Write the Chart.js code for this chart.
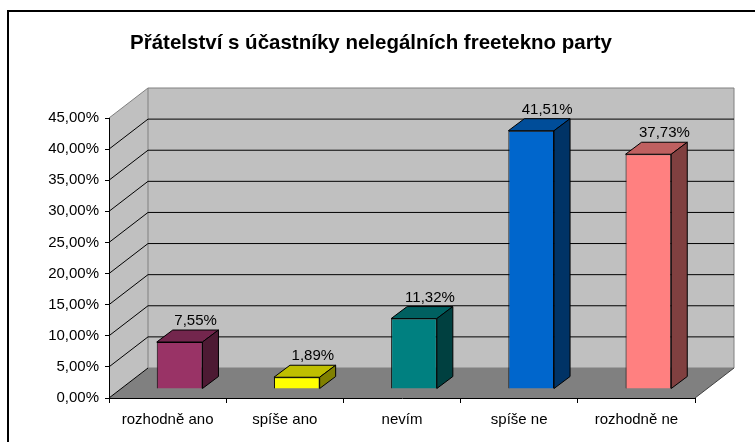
<!DOCTYPE html>
<html>
<head>
<meta charset="utf-8">
<script src="https://cdn.jsdelivr.net/npm/chart.js@4/dist/chart.umd.min.js"></script>
<style>
  html, body { margin: 0; padding: 0; background: #fff; }
  #wrap { width: 755px; height: 442px; }
</style>
</head>
<body>
<div id="wrap"><canvas id="chart" width="755" height="442"></canvas></div>
<script>
// Data
const categories = ['rozhodně ano', 'spíše ano', 'nevím', 'spíše ne', 'rozhodně ne'];
const values = [7.55, 1.89, 11.32, 41.51, 37.73];
const barColors = ['#993366', '#FFFF00', '#008080', '#0066CC', '#FF8080'];
const yMax = 45;
const yStep = 5;

const FONT = "'Liberation Sans', Arial, sans-serif";

// 3D look: wall depth, bar offset from the front plane, bar depth
const WALL_DX = 39, WALL_DY = -30;
const BAR_OFF_X = 12, BAR_OFF_Y = -9;
const BAR_DX = 16, BAR_DY = -12;

const fmt = v => v.toFixed(2).replace('.', ',') + '%';

function shade(hex, f) {
    const n = parseInt(hex.slice(1), 16);
    const r = Math.round(((n >> 16) & 255) * f);
    const g = Math.round(((n >> 8) & 255) * f);
    const b = Math.round((n & 255) * f);
    return `rgb(${r},${g},${b})`;
}

function poly(ctx, pts, fill, stroke) {
    ctx.beginPath();
    ctx.moveTo(pts[0][0], pts[0][1]);
    for (let i = 1; i < pts.length; i++) ctx.lineTo(pts[i][0], pts[i][1]);
    ctx.closePath();
    if (fill) { ctx.fillStyle = fill; ctx.fill(); }
    if (stroke) { ctx.strokeStyle = stroke; ctx.lineWidth = 1; ctx.stroke(); }
}

function line(ctx, pts, color) {
    ctx.beginPath();
    ctx.moveTo(pts[0][0], pts[0][1]);
    for (let i = 1; i < pts.length; i++) ctx.lineTo(pts[i][0], pts[i][1]);
    ctx.strokeStyle = color;
    ctx.lineWidth = 1;
    ctx.stroke();
}

const wallsPlugin = {
    id: 'walls',
    beforeDraw(chart) {
        const ctx = chart.ctx;
        const { left, right } = chart.chartArea;
        const ys = chart.scales.y;
        const yTop = ys.getPixelForValue(yMax);
        const y0 = ys.getPixelForValue(0);
        ctx.save();
        // outer frame (only top and left are visible)
        ctx.fillStyle = '#000';
        ctx.fillRect(7, 10, 760, 2);
        ctx.fillRect(7, 10, 2, 440);

        // side wall, back wall, floor
        poly(ctx, [[left, yTop], [left + WALL_DX, yTop + WALL_DY], [left + WALL_DX, y0 + WALL_DY], [left, y0]], '#c0c0c0');
        poly(ctx, [[left + WALL_DX, yTop + WALL_DY], [right + WALL_DX, yTop + WALL_DY],
                   [right + WALL_DX, y0 + WALL_DY], [left + WALL_DX, y0 + WALL_DY]], '#c0c0c0', '#808080');
        poly(ctx, [[left, y0], [right, y0], [right + WALL_DX, y0 + WALL_DY], [left + WALL_DX, y0 + WALL_DY]], '#808080');
        line(ctx, [[left, yTop], [left + WALL_DX, yTop + WALL_DY]], '#808080');
        line(ctx, [[right, y0], [right + WALL_DX, y0 + WALL_DY]], '#404040');

        // gridlines on side and back wall
        for (let v = 0; v < yMax; v += yStep) {
            const py = ys.getPixelForValue(v);
            if (v === 0) {
                line(ctx, [[left, py], [left + WALL_DX, py + WALL_DY]], '#000');
            } else {
                line(ctx, [[left, py], [left + WALL_DX, py + WALL_DY], [right + WALL_DX, py + WALL_DY]], '#000');
            }
        }
        ctx.restore();
    },
    beforeDatasetDraw(chart) {
        chart.ctx.save();
        chart.ctx.translate(BAR_OFF_X, BAR_OFF_Y);
    },
    afterDatasetDraw(chart, args) {
        const ctx = chart.ctx;
        const meta = args.meta;
        meta.data.forEach((bar, i) => {
            const { x, y, base, width } = bar.getProps(['x', 'y', 'base', 'width'], true);
            const l = x - width / 2, r = x + width / 2;
            const c = barColors[i];
            // top face
            poly(ctx, [[l, y], [l + BAR_DX, y + BAR_DY], [r + BAR_DX, y + BAR_DY], [r, y]], shade(c, 0.75), '#000');
            // side face
            poly(ctx, [[r, y], [r + BAR_DX, y + BAR_DY], [r + BAR_DX, base + BAR_DY], [r, base]], shade(c, 0.5), '#000');
            // value label
            ctx.fillStyle = '#000';
            ctx.font = `15px ${FONT}`;
            ctx.textAlign = 'center';
            ctx.textBaseline = 'alphabetic';
            ctx.fillText(fmt(values[i]), x + BAR_DX, y + BAR_DY - 5);
        });
        ctx.restore();
    }
};

new Chart(document.getElementById('chart'), {
    type: 'bar',
    data: {
        labels: categories,
        datasets: [{
            data: values,
            backgroundColor: barColors,
            borderColor: '#000',
            borderWidth: 1,
            categoryPercentage: 0.39,
            barPercentage: 1,
            clip: false
        }]
    },
    options: {
        responsive: false,
        animation: false,
        layout: {
            padding: { left: 47, right: 60, top: 0, bottom: 0 }
        },
        scales: {
            x: {
                afterFit: s => { s.height = 44; },
                grid: {
                    drawOnChartArea: false,
                    tickLength: 5,
                    color: '#000'
                },
                border: { color: '#000' },
                ticks: {
                    color: '#000',
                    padding: 8,
                    maxRotation: 0,
                    font: { family: FONT, size: 15 }
                }
            },
            y: {
                min: 0,
                max: yMax,
                afterFit: s => { s.width = 62; },
                grid: {
                    drawOnChartArea: false,
                    tickLength: 4,
                    color: '#000'
                },
                border: { color: '#000' },
                ticks: {
                    stepSize: yStep,
                    color: '#000',
                    padding: 6,
                    font: { family: FONT, size: 15 },
                    callback: v => fmt(v)
                }
            }
        },
        plugins: {
            legend: { display: false },
            tooltip: { enabled: false },
            title: {
                display: true,
                text: 'Přátelství s účastníky nelegálních freetekno party',
                color: '#000',
                font: { family: FONT, size: 20.5, weight: 'bold' },
                padding: { top: 31, bottom: 62.4 }
            }
        }
    },
    plugins: [wallsPlugin]
});
</script>
</body>
</html>
